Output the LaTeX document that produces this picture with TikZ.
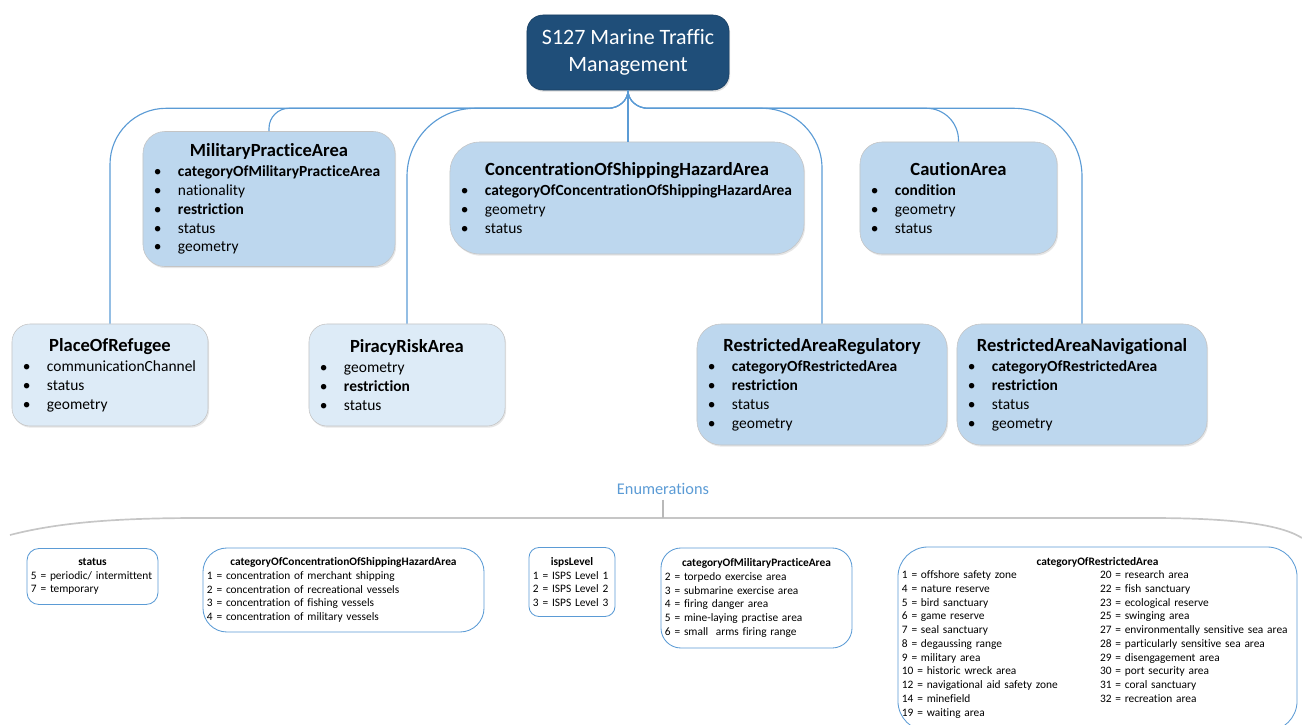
\documentclass[tikz,border=0pt]{standalone}
\usepackage{fontspec}
\setmainfont{Carlito}[Ligatures=NoCommon]
\usepackage{xcolor}
\usepackage{tikz}
\usetikzlibrary{shadows,calc}

\definecolor{rootblue}{HTML}{1F4E79}
\definecolor{clsblue}{HTML}{BDD7EE}
\definecolor{clslight}{HTML}{DDEBF7}
\definecolor{linkblue}{HTML}{5B9BD5}
\definecolor{edgegray}{HTML}{C4C4C4}

\setlength{\parindent}{0pt}
\newcommand{\clstitle}[1]{\centerline{\fontsize{13.2}{15.5}\selectfont\bfseries #1}\vspace{0.5pt}}
\newcommand{\attr}[1]{\par\makebox[0.6cm][l]{\textbullet}#1}
\newcommand{\keyattr}[1]{\attr{\textbf{#1}}}
\newcommand{\enumtitle}[1]{\centerline{\bfseries #1}}

\begin{document}
\begin{tikzpicture}[x=0.025cm,y=-0.025cm,
   cls/.style={draw=edgegray,fill=clsblue,rounded corners=0.55cm,align=left,
      inner xsep=0.275cm,inner ysep=2pt,
      font=\fontsize{11}{13.5}\selectfont,
      drop shadow={opacity=0.2,shadow xshift=0.8pt,shadow yshift=-1.2pt}},
   clsl/.style={cls,fill=clslight},
   conn/.style={draw=linkblue,line width=0.8pt},
   enumbox/.style={draw=linkblue,fill=white,line width=0.6pt,align=left,
      inner xsep=0.1cm,inner ysep=1pt,
      font=\fontsize{8.1}{9.8}\selectfont}]
  \useasboundingbox (0,0) rectangle (1302,724);

  \node[fill=rootblue,draw=rootblue!80!black,rounded corners=0.4cm,text=white,
     minimum width=5.05cm,minimum height=1.875cm,align=center,
     font=\fontsize{15.6}{18.8}\selectfont,
     drop shadow={opacity=0.25,shadow xshift=0.8pt,shadow yshift=-1.2pt}]
     (root) at (628,52.5) {S127 Marine Traffic\\Management};

  \node[cls,text width=5.75cm,minimum height=3.375cm] (mpa) at (269,199) {%
    \clstitle{MilitaryPracticeArea}%
    \keyattr{categoryOfMilitaryPracticeArea}\attr{nationality}%
    \keyattr{restriction}\attr{status}\attr{geometry}};
  \node[cls,text width=8.3cm,minimum height=2.8cm,rounded corners=0.75cm] (cshz) at (627,198) {%
    \clstitle{ConcentrationOfShippingHazardArea}%
    \keyattr{categoryOfConcentrationOfShippingHazardArea}\attr{geometry}\attr{status}};
  \node[cls,text width=4.375cm,minimum height=2.8cm] (caut) at (958.5,198) {%
    \clstitle{CautionArea}%
    \keyattr{condition}\attr{geometry}\attr{status}};
  \node[clsl,text width=4.35cm,minimum height=2.55cm,rounded corners=0.45cm] (por) at (110,375) {%
    \clstitle{PlaceOfRefugee}%
    \attr{communicationChannel}\attr{status}\attr{geometry}};
  \node[clsl,text width=4.35cm,minimum height=2.55cm,rounded corners=0.45cm] (pra) at (407,375) {%
    \clstitle{PiracyRiskArea}%
    \attr{geometry}\keyattr{restriction}\attr{status}};
  \node[cls,text width=5.7cm,minimum height=3.025cm,rounded corners=0.6cm] (rar) at (822,384.5) {%
    \clstitle{RestrictedAreaRegulatory}%
    \keyattr{categoryOfRestrictedArea}\keyattr{restriction}\attr{status}\attr{geometry}};
  \node[cls,text width=5.7cm,minimum height=3.025cm,rounded corners=0.6cm] (ran) at (1082,384.5) {%
    \clstitle{RestrictedAreaNavigational}%
    \keyattr{categoryOfRestrictedArea}\keyattr{restriction}\attr{status}\attr{geometry}};

  \draw[conn] (root.south) to[out=-90,in=0] ++(-20,18) [rounded corners=1.4cm] -| (por.north);
  \draw[conn] (root.south) to[out=-90,in=0] ++(-20,18) [rounded corners=0.5cm] -| (mpa.north);
  \draw[conn] (root.south) to[out=-90,in=0] ++(-20,18) [rounded corners=1.7cm] -| (pra.north);
  \draw[conn] (root.south) -- (root.south |- cshz.north);
  \draw[conn] (root.south) to[out=-90,in=180] ++(20,18) [rounded corners=0.8cm] -| (caut.north);
  \draw[conn] (root.south) to[out=-90,in=180] ++(20,18) [rounded corners=1.5cm] -| (rar.north);
  \draw[conn] (root.south) to[out=-90,in=180] ++(20,18) [rounded corners=1.7cm] -| (ran.north);

  % enumerations
  \node[text=linkblue,font=\fontsize{11.6}{13}\selectfont] (enumlbl) at (663,489) {Enumerations};
  \coordinate (bar) at (663,518);
  \draw[gray!45,line width=1.2pt] (10,535) .. controls (60,522) and (120,518) .. (200,518)
     -- (1150,518) .. controls (1230,518) and (1280,524) .. (1302,538);
  \draw[gray!55,line width=1.2pt] (enumlbl.south) -- (bar);

  \node[enumbox,text width=3.075cm,minimum height=1.4cm,rounded corners=0.3cm] (stat) at (92.5,576.5) {%
    \enumtitle{status}
    5 = periodic/ intermittent\\
    7 = temporary};
  \node[enumbox,text width=6.825cm,minimum height=2.1cm,rounded corners=0.6cm] (ecshz) at (343.5,590) {%
    \enumtitle{categoryOfConcentrationOfShippingHazardArea}
    1 = concentration of merchant shipping\\
    2 = concentration of recreational vessels\\
    3 = concentration of fishing vessels\\
    4 = concentration of military vessels};
  \node[enumbox,text width=1.95cm,minimum height=1.725cm,rounded corners=0.25cm] (isps) at (572,582) {%
    \enumtitle{ispsLevel}
    1 = ISPS Level 1\\
    2 = ISPS Level 2\\
    3 = ISPS Level 3};
  \node[enumbox,text width=4.575cm,minimum height=2.5cm,rounded corners=0.5cm] (empa) at (756.5,598) {%
    \enumtitle{categoryOfMilitaryPracticeArea}
    2 = torpedo exercise area\\
    3 = submarine exercise area\\
    4 = firing danger area\\
    5 = mine-laying practise area\\
    6 = small~ arms firing range};
  \node[enumbox,text width=9.775cm,minimum height=4.6cm,rounded corners=0.75cm] (era) at (1097.5,639) {%
    \enumtitle{categoryOfRestrictedArea}
    \begin{tabular}{@{}p{4.95cm}@{}l@{}}
    1 = offshore safety zone & 20 = research area\\
    4 = nature reserve & 22 = fish sanctuary\\
    5 = bird sanctuary & 23 = ecological reserve\\
    6 = game reserve & 25 = swinging area\\
    7 = seal sanctuary & 27 = environmentally sensitive sea area\\
    8 = degaussing range & 28 = particularly sensitive sea area\\
    9 = military area & 29 = disengagement area\\
    10 = historic wreck area & 30 = port security area\\
    12 = navigational aid safety zone & 31 = coral sanctuary\\
    14 = minefield & 32 = recreation area\\
    19 = waiting area &
    \end{tabular}};
\end{tikzpicture}
\end{document}
